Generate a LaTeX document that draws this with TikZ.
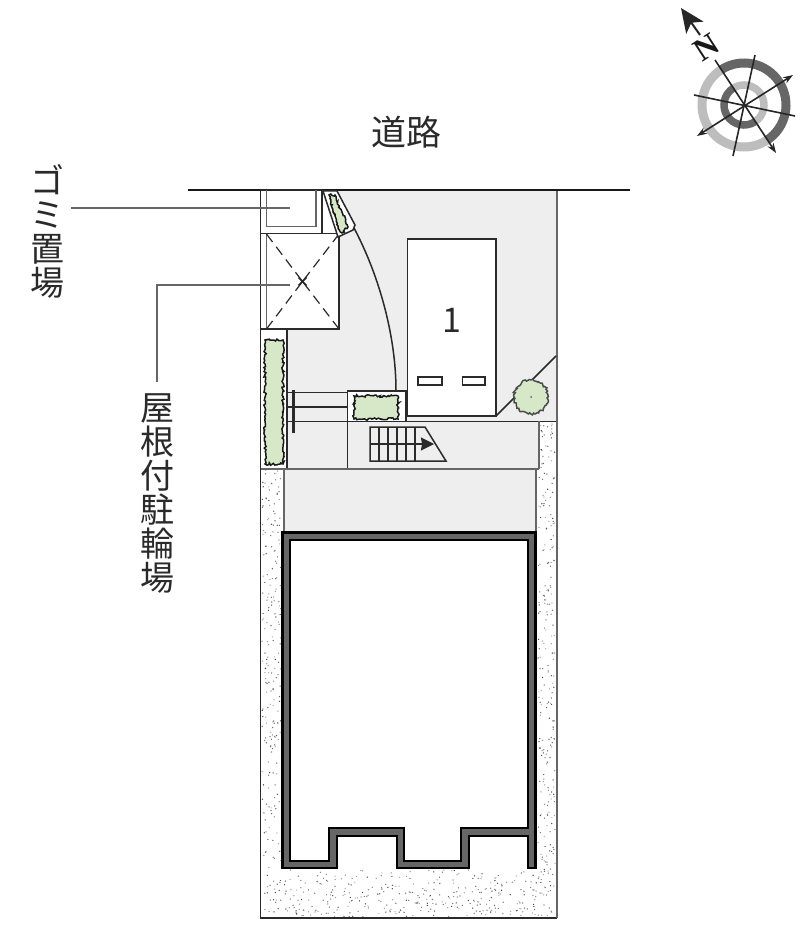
\documentclass[tikz,border=0pt]{standalone}
\usepackage{fontspec}
\setmainfont{Noto Sans CJK JP}
\newfontfamily\northfont{Liberation Serif}
\usetikzlibrary{decorations.pathmorphing,arrows.meta}
\definecolor{yardgrey}{HTML}{EEEEEE}
\definecolor{plantgreen}{HTML}{D6E8C8}
\definecolor{inkgrey}{HTML}{2A2A2A}
\definecolor{walldark}{HTML}{666666}
\definecolor{ringlight}{HTML}{BDBDBD}
\newcommand{\stipple}[5]{% x y w h count
  \foreach \i in {1,...,#5}{
    \pgfmathsetmacro{\px}{#1+rnd*#3}
    \pgfmathsetmacro{\py}{#2+rnd*#4}
    \pgfmathsetmacro{\pk}{30+rnd*45}
    \fill[black!\pk] (\px,\py) circle (0.7);
  }}
\tikzset{
  plan/.style={draw=inkgrey,line width=1.5pt},
  side/.style={draw=walldark,line width=2pt},
  leader/.style={draw=walldark,line width=1.5pt},
  plantbox/.style={draw=black!90,fill=plantgreen,line width=1.5pt,decorate,decoration={random steps,segment length=1.7pt,amplitude=1.2pt}},
  lbl/.style={text=inkgrey,font=\fontsize{34}{34}\selectfont,align=center},
  needle/.style={line width=1.6pt,black!85},
}
\begin{document}
\begin{tikzpicture}[x=1pt,y=-1pt]
\useasboundingbox (0,0) rectangle (800,941);
\pgfmathsetseed{41}
% yard
\fill[yardgrey] (287,190) rectangle (556,421);
\fill[yardgrey] (287,421) rectangle (539,468);
\fill[yardgrey] (283,468) rectangle (536,532);
\fill[white] (322,190) -- (330,190) -- (339,234) -- (322,234) -- cycle;
% stipple
\stipple{262}{470}{19}{446}{230}
\stipple{540}{423}{15}{45}{28}
\stipple{538}{468}{17}{448}{230}
\stipple{282}{870}{255}{47}{330}
% outline
\draw[plan] (260.5,190) -- (260.5,918) -- (556.5,918);
\draw[side] (556.5,190) -- (556.5,918);
\draw[line width=1.8pt,black!90] (188,190) -- (630,190);
% top boxes
\draw[plan,fill=white] (260.5,190) rectangle (322,233.5);
\draw[draw=walldark,line width=1.5pt] (266.5,190) -- (266.5,226.5) -- (316,226.5) -- (316,190);
\draw[plan,fill=white] (260.5,233.5) rectangle (339,329);
\draw[draw=walldark,line width=1.5pt] (266.5,233.5) -- (266.5,329);
\coordinate (xmark) at (302.5,281.5);
\foreach \c in {(266.5,234),(339,234),(266.5,329),(339,329)}
  \draw[inkgrey,line width=1.2pt,dash pattern=on 10pt off 6pt] \c -- (xmark);
\draw[inkgrey,line width=1.5pt] (298.5,277.5) -- (306.5,285.5) (306.5,277.5) -- (298.5,285.5);
\draw[plan,fill=white] (260.5,329) rectangle (287,468.5);
% door swing
\draw[plan] (330,190) .. controls (368,240) and (396,320) .. (396,391);
\draw[plan,fill=white] (323,191) -- (337,191) -- (355,225) -- (353,230) -- (338,237) -- cycle;
\draw[plantbox] (329,195) -- (335,195) -- (348,227) -- (342,233) -- (338,226) -- cycle;
% parking
\draw[plan,fill=white] (407.5,239) rectangle (496,416);
\node[text=inkgrey,font=\fontsize{34}{34}\selectfont] (stallno) at (452,320) {1};
\draw[plan,fill=white] (418,377) rectangle (442,385);
\draw[plan,fill=white] (462.5,377) rectangle (485,385);
% tree
\draw[plan] (407.5,416) -- (496,416) -- (556,356);
\draw[plantbox,draw=black!70] (531,397) circle (17);
\fill[walldark] (531,397) circle (1);
% fence and planter
\draw[plan] (287,392.5) -- (348,392.5) (287,407) -- (348,407);
\draw[plan] (287,421.5) -- (556,421.5);
\draw[line width=3pt,inkgrey] (293,390) -- (293,433);
\draw[plan,fill=white] (347.5,391) rectangle (406,421.5);
\draw[plantbox] (354,396) rectangle (398,419);
\draw[plantbox] (265,340) rectangle (283,464);
% lower lines
\draw[plan] (347.5,421) -- (347.5,468.5);
\draw[side] (260.5,468.5) -- (539,468.5);
\draw[side] (538.5,421) -- (538.5,468.5);
\draw[side] (283.5,468) -- (283.5,532) (536,468) -- (536,532);
% stairs
\draw[plan] (370,427) -- (425,427) -- (446,461) -- (370,461) -- cycle;
\foreach \x in {379,388,397,406,415}
  \draw[plan] (\x,427) -- (\x,461);
\draw[plan,-{Stealth[length=13pt,width=13pt,inset=1pt]}] (370,444) -- (434,444);
% building
\draw[fill=white,draw=none] (282,532) rectangle (536,868);
\draw[black,line width=2.6pt,fill=walldark,even odd rule]
  (282.5,532.5) -- (535.5,532.5) -- (535.5,868) -- (528,868) -- (528,836) -- (469,836) -- (469,868)
  -- (397,868) -- (397,836) -- (337,836) -- (337,868) -- (282.5,868) -- cycle
  (290,540) -- (528,540) -- (528,828) -- (461,828) -- (461,861) -- (404,861) -- (404,828)
  -- (329,828) -- (329,861) -- (290,861) -- cycle;
% labels
\node[lbl,font=\fontsize{35}{35}\selectfont] (roadlabel) at (406,132) {道路};
\node[lbl,inner xsep=7pt,inner ysep=0pt] (gomilabel) at (47,231) {ゴ\\ミ\\置\\場};
\node[lbl,inner ysep=12pt,inner xsep=0pt] (bikelabel) at (157,494) {屋\\根\\付\\駐\\輪\\場};
\coordinate (gomiend) at (290,208);
\coordinate (bikeend) at (290,285);
\draw[leader] (gomilabel.east |- gomiend) -- (gomiend);
\draw[leader] (bikelabel.north) |- (bikeend);
% compass
\begin{scope}[shift={(744,105)},yscale=-1]
  \draw[walldark,line width=9pt] (123:42) arc (123:-57:42);
  \draw[ringlight,line width=9pt] (123:42) arc (123:303:42);
  \draw[ringlight,line width=7.5pt] (123:20) arc (123:-57:20);
  \draw[walldark,line width=7.5pt] (123:20) arc (123:303:20);
\end{scope}
\draw[needle,-{Stealth[length=10pt,width=7pt]}] (715,60) -- (776,153);
\draw[needle,{Stealth[length=10pt,width=7pt]}-{Stealth[length=10pt,width=7pt]}] (697,136) -- (793,75);
\draw[needle] (755,55) -- (733,156);
\draw[needle] (694,95) -- (795,116);
\draw[needle,line width=2pt,-{Stealth[length=24pt,width=21pt,inset=6pt]}] (700,35) -- (681,8);
\node[rotate=33,text=black!90,inner sep=0pt,font=\northfont\fontsize{32}{32}\selectfont\bfseries] (northmark) at (706,47) {N};
\end{tikzpicture}
\end{document}
